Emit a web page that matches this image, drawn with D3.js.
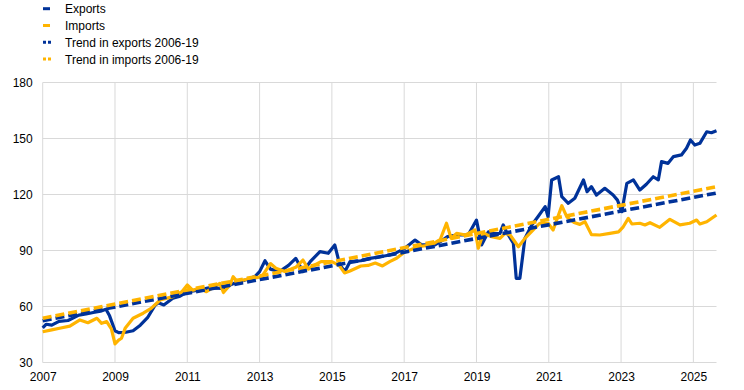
<!DOCTYPE html>
<html>

<head>
    <title>Exports and imports</title>
    <script type="text/javascript" src="https://d3js.org/d3.v7.min.js"></script>
    <style>
        body { margin: 0; background: #fff; }
        text { font-family: Arial, "Liberation Sans", sans-serif; }
    </style>
</head>

<body>
    <div id="chart"></div>
</body>

<script type="text/javascript">
    // chart values (year as decimal, index value)
    var exportsData = [[2007.0,48.5],[2007.1,50.5],[2007.25,50],[2007.45,52],[2007.7,52.5],[2008.0,55.4],[2008.2,56],[2008.4,56.8],[2008.6,57.5],[2008.75,58.5],[2008.85,55],[2009.0,47],[2009.1,46],[2009.3,46.2],[2009.5,47],[2009.7,50],[2009.9,54],[2010.1,60.5],[2010.2,62],[2010.35,60.8],[2010.6,64.4],[2010.8,65.5],[2011.0,67.8],[2011.3,68.8],[2011.6,70],[2011.95,69.7],[2012.3,72.4],[2012.6,74.2],[2012.87,76],[2013.0,78.7],[2013.15,84.5],[2013.3,80],[2013.55,78.7],[2013.8,82],[2014.0,85.8],[2014.2,78.7],[2014.4,84],[2014.67,89.4],[2014.9,88.5],[2015.08,93],[2015.22,82.2],[2015.36,78.7],[2015.5,84],[2015.8,84.5],[2016.05,85.8],[2016.3,86.5],[2016.6,87.6],[2016.75,88.5],[2017.0,91],[2017.3,95.6],[2017.48,93],[2017.85,93],[2018.0,94.7],[2018.2,97.4],[2018.45,98.3],[2018.77,98.3],[2019.0,106.3],[2019.14,93],[2019.33,100],[2019.5,99],[2019.65,99.2],[2019.74,103.7],[2019.83,100],[2020.02,93.9],[2020.1,75.1],[2020.2,75.1],[2020.34,96.5],[2020.53,103.7],[2020.7,108.1],[2020.9,113.5],[2020.98,108],[2021.08,127.8],[2021.27,129.5],[2021.36,118.8],[2021.54,115.3],[2021.72,118],[2021.96,127.8],[2022.06,121.5],[2022.18,124.2],[2022.32,119.7],[2022.55,123.3],[2022.78,119.7],[2022.9,117],[2023.02,110.8],[2023.16,126],[2023.34,127.8],[2023.52,122.4],[2023.7,125.5],[2023.89,129.5],[2024.03,127.8],[2024.12,137.6],[2024.3,136.7],[2024.45,140.3],[2024.67,141.2],[2024.81,144.8],[2024.92,149.2],[2025.04,146.5],[2025.18,147.4],[2025.37,153.6],[2025.5,153.1],[2025.64,154.2]];

    var importsData = [[2007.0,46.5],[2007.25,47.5],[2007.5,48.5],[2007.75,49.5],[2008.03,52.8],[2008.25,51.3],[2008.5,53.7],[2008.63,51],[2008.77,51.9],[2008.9,48],[2009.0,40],[2009.1,42],[2009.18,43],[2009.28,48.3],[2009.5,53.7],[2009.78,56.4],[2010.0,59],[2010.25,63.5],[2010.6,65.3],[2010.85,67.9],[2011.0,71.5],[2011.15,68.8],[2011.35,69.7],[2011.53,67.9],[2011.9,72.4],[2012.0,67.5],[2012.18,71.5],[2012.27,76],[2012.4,72.8],[2012.55,74.2],[2012.8,75.1],[2013.06,76],[2013.3,83],[2013.45,80.5],[2013.7,78.7],[2014.0,81],[2014.2,84.9],[2014.35,80],[2014.5,82],[2014.7,84],[2015.0,84],[2015.2,82],[2015.35,78],[2015.5,79],[2015.8,81.7],[2016.0,82],[2016.2,83.3],[2016.4,81.7],[2016.6,84],[2016.8,86],[2017.0,89],[2017.38,92],[2017.76,93],[2018.0,96],[2018.17,104.6],[2018.3,96.5],[2018.45,99.2],[2018.7,98.3],[2018.96,101],[2019.05,91.2],[2019.19,99.2],[2019.42,97.4],[2019.65,96.5],[2019.79,99.2],[2019.93,98.3],[2020.16,92],[2020.34,96.5],[2020.57,101],[2020.75,104.6],[2020.98,104.6],[2021.12,101],[2021.36,114],[2021.5,108],[2021.7,105],[2021.86,104],[2022.0,105.4],[2022.18,98.5],[2022.41,98.3],[2022.69,99.2],[2022.93,100],[2023.06,102.7],[2023.2,107.2],[2023.3,104.2],[2023.52,104.6],[2023.66,103.7],[2023.8,104.9],[2024.07,102.4],[2024.35,106.7],[2024.63,103.7],[2024.9,104.6],[2025.09,106.3],[2025.18,104.2],[2025.37,105.4],[2025.64,109]];

    var exportsTrend = [[2007.0,52.4],[2025.64,120.8]];
    var importsTrend = [[2007.0,53.7],[2025.64,124.2]];

    var xTicks = [2007, 2009, 2011, 2013, 2015, 2017, 2019, 2021, 2023, 2025];
    var yTicks = [30, 60, 90, 120, 150, 180];

    var seriesNames = ["Exports", "Imports", "Trend in exports 2006-19", "Trend in imports 2006-19"];

    var blue = "#003299";
    var yellow = "#ffb400";

    var width = 744;
    var height = 390;

    var svg = d3.select("#chart")
        .append("svg")
        .attr("width", width)
        .attr("height", height);

    // scales
    var x_scale = d3.scaleLinear()
        .domain([2007, 2025.64])
        .range([42.7, 716.5]);

    var y_scale = d3.scaleLinear()
        .domain([30, 180])
        .range([362.5, 82.5]);

    // horizontal grid lines
    svg.append("g")
        .selectAll("line")
        .data(yTicks)
        .enter()
        .append("line")
        .attr("x1", x_scale(2007))
        .attr("x2", x_scale(2025.64))
        .attr("y1", function (d) { return y_scale(d); })
        .attr("y2", function (d) { return y_scale(d); })
        .style("stroke", "#d9d9d9")
        .style("stroke-width", 1);

    // vertical grid lines
    svg.append("g")
        .selectAll("line")
        .data(xTicks)
        .enter()
        .append("line")
        .attr("x1", function (d) { return x_scale(d); })
        .attr("x2", function (d) { return x_scale(d); })
        .attr("y1", y_scale(180))
        .attr("y2", y_scale(30))
        .style("stroke", "#d9d9d9")
        .style("stroke-width", 1);

    // y axis labels
    var y_axis = d3.axisLeft(y_scale)
        .tickValues(yTicks)
        .tickSize(0)
        .tickPadding(10);

    svg.append("g")
        .attr("transform", "translate(" + x_scale(2007) + ",0)")
        .call(y_axis)
        .call(function (g) { g.select(".domain").remove(); })
        .selectAll("text")
        .style("font-size", "12px")
        .style("fill", "#000");

    // x axis labels
    var x_axis = d3.axisBottom(x_scale)
        .tickValues(xTicks)
        .tickFormat(d3.format("d"))
        .tickSize(0)
        .tickPadding(10);

    svg.append("g")
        .attr("transform", "translate(0," + y_scale(30) + ")")
        .call(x_axis)
        .call(function (g) { g.select(".domain").remove(); })
        .selectAll("text")
        .style("font-size", "12px")
        .style("fill", "#000");

    var line = d3.line()
        .x(function (d) { return x_scale(d[0]); })
        .y(function (d) { return y_scale(d[1]); });

    // series, trends drawn on top
    var lines = [
        { data: exportsData, color: blue, dash: null, w: 3.2 },
        { data: importsData, color: yellow, dash: null, w: 3.2 },
        { data: exportsTrend, color: blue, dash: "9,4", w: 3.6 },
        { data: importsTrend, color: yellow, dash: "9,4", w: 3.6 }
    ];

    lines.forEach(function (s) {
        svg.append("path")
            .datum(s.data)
            .attr("d", line)
            .style("fill", "none")
            .style("stroke", s.color)
            .style("stroke-width", s.w)
            .style("stroke-linejoin", "round")
            .style("stroke-dasharray", s.dash);
    });

    // legend
    var legend = svg.append("g")
        .selectAll("g")
        .data(seriesNames)
        .enter()
        .append("g")
        .attr("transform", function (d, i) { return "translate(0," + (8.7 + i * 16.8) + ")"; });

    legend.append("line")
        .attr("x1", 43)
        .attr("x2", function (d, i) { return i < 2 ? 50 : 53; })
        .attr("y1", 0)
        .attr("y2", 0)
        .style("stroke", function (d, i) { return i % 2 === 0 ? blue : yellow; })
        .style("stroke-width", 3)
        .style("stroke-dasharray", function (d, i) { return i < 2 ? null : "3,2"; });

    legend.append("text")
        .attr("x", 65)
        .attr("y", 4.5)
        .style("font-size", "12px")
        .style("fill", "#000")
        .text(function (d) { return d; });
</script>

</html>
